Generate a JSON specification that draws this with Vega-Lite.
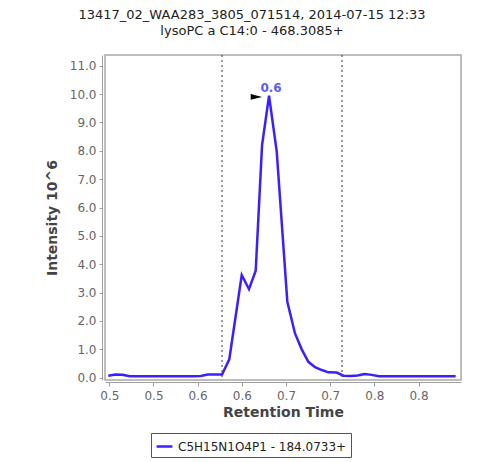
{
  "$schema": "https://vega.github.io/schema/vega-lite/v6.json",
  "autosize": "none",
  "width": 356,
  "height": 325,
  "padding": {"left": 105, "top": 55, "right": 20, "bottom": 82},
  "background": "white",
  "config": {
    "font": "DejaVu Sans",
    "view": {"stroke": "#a8a8a8", "strokeWidth": 1.5},
    "axis": {
      "titleFontSize": 14, "titleFontWeight": "bold", "titleColor": "#444444",
      "labelFontSize": 12, "labelColor": "#666666",
      "labelOverlap": false, "labelFlush": false,
      "domainColor": "#a0a0a0", "tickColor": "#a0a0a0",
      "grid": false
    },
    "axisX": {"titlePadding": 4, "labelPadding": 4, "tickSize": 4, "offset": 2},
    "axisY": {"titlePadding": 10, "labelPadding": 3, "tickSize": 3, "offset": 3}
  },
  "title": {
    "text": ["13417_02_WAA283_3805_071514, 2014-07-15 12:33", "lysoPC a C14:0 - 468.3085+"],
    "fontSize": 13,
    "fontWeight": "normal",
    "color": "#222222",
    "lineHeight": 16,
    "anchor": "middle",
    "frame": "group",
    "dx": -31,
    "offset": 16
  },
  "datasets": {
    "trace": [
      {"rt": 0.4988, "intensity": 0.07, "series": "C5H15N1O4P1 - 184.0733+"},
      {"rt": 0.5069, "intensity": 0.11, "series": "C5H15N1O4P1 - 184.0733+"},
      {"rt": 0.5149, "intensity": 0.10, "series": "C5H15N1O4P1 - 184.0733+"},
      {"rt": 0.5230, "intensity": 0.05, "series": "C5H15N1O4P1 - 184.0733+"},
      {"rt": 0.5310, "intensity": 0.05, "series": "C5H15N1O4P1 - 184.0733+"},
      {"rt": 0.5391, "intensity": 0.05, "series": "C5H15N1O4P1 - 184.0733+"},
      {"rt": 0.5471, "intensity": 0.05, "series": "C5H15N1O4P1 - 184.0733+"},
      {"rt": 0.5552, "intensity": 0.05, "series": "C5H15N1O4P1 - 184.0733+"},
      {"rt": 0.5632, "intensity": 0.05, "series": "C5H15N1O4P1 - 184.0733+"},
      {"rt": 0.5713, "intensity": 0.05, "series": "C5H15N1O4P1 - 184.0733+"},
      {"rt": 0.5793, "intensity": 0.05, "series": "C5H15N1O4P1 - 184.0733+"},
      {"rt": 0.5874, "intensity": 0.05, "series": "C5H15N1O4P1 - 184.0733+"},
      {"rt": 0.5954, "intensity": 0.05, "series": "C5H15N1O4P1 - 184.0733+"},
      {"rt": 0.6035, "intensity": 0.06, "series": "C5H15N1O4P1 - 184.0733+"},
      {"rt": 0.6115, "intensity": 0.11, "series": "C5H15N1O4P1 - 184.0733+"},
      {"rt": 0.6196, "intensity": 0.11, "series": "C5H15N1O4P1 - 184.0733+"},
      {"rt": 0.6276, "intensity": 0.11, "series": "C5H15N1O4P1 - 184.0733+"},
      {"rt": 0.6358, "intensity": 0.65, "series": "C5H15N1O4P1 - 184.0733+"},
      {"rt": 0.6499, "intensity": 3.62, "series": "C5H15N1O4P1 - 184.0733+"},
      {"rt": 0.6581, "intensity": 3.12, "series": "C5H15N1O4P1 - 184.0733+"},
      {"rt": 0.6657, "intensity": 3.77, "series": "C5H15N1O4P1 - 184.0733+"},
      {"rt": 0.6729, "intensity": 8.2, "series": "C5H15N1O4P1 - 184.0733+"},
      {"rt": 0.6808, "intensity": 9.94, "series": "C5H15N1O4P1 - 184.0733+"},
      {"rt": 0.6895, "intensity": 7.97, "series": "C5H15N1O4P1 - 184.0733+"},
      {"rt": 0.7015, "intensity": 2.68, "series": "C5H15N1O4P1 - 184.0733+"},
      {"rt": 0.7102, "intensity": 1.56, "series": "C5H15N1O4P1 - 184.0733+"},
      {"rt": 0.7178, "intensity": 1.0, "series": "C5H15N1O4P1 - 184.0733+"},
      {"rt": 0.7253, "intensity": 0.56, "series": "C5H15N1O4P1 - 184.0733+"},
      {"rt": 0.7329, "intensity": 0.37, "series": "C5H15N1O4P1 - 184.0733+"},
      {"rt": 0.7405, "intensity": 0.27, "series": "C5H15N1O4P1 - 184.0733+"},
      {"rt": 0.7480, "intensity": 0.19, "series": "C5H15N1O4P1 - 184.0733+"},
      {"rt": 0.7574, "intensity": 0.18, "series": "C5H15N1O4P1 - 184.0733+"},
      {"rt": 0.7650, "intensity": 0.07, "series": "C5H15N1O4P1 - 184.0733+"},
      {"rt": 0.7730, "intensity": 0.06, "series": "C5H15N1O4P1 - 184.0733+"},
      {"rt": 0.7810, "intensity": 0.08, "series": "C5H15N1O4P1 - 184.0733+"},
      {"rt": 0.7890, "intensity": 0.13, "series": "C5H15N1O4P1 - 184.0733+"},
      {"rt": 0.7970, "intensity": 0.10, "series": "C5H15N1O4P1 - 184.0733+"},
      {"rt": 0.8050, "intensity": 0.05, "series": "C5H15N1O4P1 - 184.0733+"},
      {"rt": 0.8130, "intensity": 0.05, "series": "C5H15N1O4P1 - 184.0733+"},
      {"rt": 0.8210, "intensity": 0.05, "series": "C5H15N1O4P1 - 184.0733+"},
      {"rt": 0.8290, "intensity": 0.05, "series": "C5H15N1O4P1 - 184.0733+"},
      {"rt": 0.8370, "intensity": 0.05, "series": "C5H15N1O4P1 - 184.0733+"},
      {"rt": 0.8450, "intensity": 0.05, "series": "C5H15N1O4P1 - 184.0733+"},
      {"rt": 0.8530, "intensity": 0.05, "series": "C5H15N1O4P1 - 184.0733+"},
      {"rt": 0.8610, "intensity": 0.05, "series": "C5H15N1O4P1 - 184.0733+"},
      {"rt": 0.8690, "intensity": 0.05, "series": "C5H15N1O4P1 - 184.0733+"},
      {"rt": 0.8770, "intensity": 0.05, "series": "C5H15N1O4P1 - 184.0733+"},
      {"rt": 0.8850, "intensity": 0.05, "series": "C5H15N1O4P1 - 184.0733+"},
      {"rt": 0.8920, "intensity": 0.05, "series": "C5H15N1O4P1 - 184.0733+"}
    ],
    "bounds": [{"rt": 0.6276}, {"rt": 0.7634}],
    "peak": [{"rt": 0.6808, "intensity": 9.94, "label": "0.6", "markerRt": 0.6665, "markerIntensity": 9.9}]
  },
  "layer": [
    {
      "data": {"name": "trace"},
      "mark": {"type": "line", "strokeWidth": 2.5, "clip": true},
      "encoding": {
        "x": {
          "field": "rt", "type": "quantitative",
          "scale": {"domain": [0.4951, 0.8981], "nice": false, "zero": false},
          "axis": {
            "title": "Retention Time",
            "values": [0.5, 0.55, 0.6, 0.65, 0.7, 0.75, 0.8, 0.85],
            "labelExpr": "format(floor(datum.value * 10 + 0.000001) / 10, '.1f')"
          }
        },
        "y": {
          "field": "intensity", "type": "quantitative",
          "scale": {"domain": [-0.081, 11.377], "nice": false, "zero": false},
          "axis": {
            "title": "Intensity 10^6",
            "values": [0, 1, 2, 3, 4, 5, 6, 7, 8, 9, 10, 11],
            "format": ".1f"
          }
        },
        "color": {
          "field": "series", "type": "nominal",
          "scale": {"range": ["#3b1fff"]},
          "legend": {
            "title": null,
            "orient": "none",
            "legendX": 46,
            "legendY": 378,
            "symbolType": "stroke",
            "symbolStrokeWidth": 2.5,
            "symbolSize": 250,
            "labelFontSize": 12,
            "labelColor": "#222222",
            "labelLimit": 400,
            "strokeColor": "#555555",
            "padding": 4,
            "fillColor": "white"
          }
        }
      }
    },
    {
      "data": {"name": "bounds"},
      "mark": {"type": "rule", "color": "#555555", "strokeWidth": 1.2, "strokeDash": [2, 3]},
      "encoding": {
        "x": {
          "field": "rt", "type": "quantitative",
          "axis": {
            "title": "Retention Time",
            "values": [0.5, 0.55, 0.6, 0.65, 0.7, 0.75, 0.8, 0.85],
            "labelExpr": "format(floor(datum.value * 10 + 0.000001) / 10, '.1f')"
          }
        }
      }
    },
    {
      "data": {"name": "peak"},
      "mark": {"type": "point", "shape": "M -1 -0.5 L 1 0 L -1 0.5 Z", "filled": true, "color": "black", "size": 130, "opacity": 1},
      "encoding": {
        "x": {
          "field": "markerRt", "type": "quantitative",
          "axis": {
            "title": "Retention Time",
            "values": [0.5, 0.55, 0.6, 0.65, 0.7, 0.75, 0.8, 0.85],
            "labelExpr": "format(floor(datum.value * 10 + 0.000001) / 10, '.1f')"
          }
        },
        "y": {
          "field": "markerIntensity", "type": "quantitative",
          "axis": {
            "title": "Intensity 10^6",
            "values": [0, 1, 2, 3, 4, 5, 6, 7, 8, 9, 10, 11],
            "format": ".1f"
          }
        }
      }
    },
    {
      "data": {"name": "peak"},
      "mark": {"type": "text", "color": "#5b5bff", "fontSize": 12, "fontWeight": "bold", "baseline": "alphabetic", "dy": -4, "dx": 2},
      "encoding": {
        "x": {
          "field": "rt", "type": "quantitative",
          "axis": {
            "title": "Retention Time",
            "values": [0.5, 0.55, 0.6, 0.65, 0.7, 0.75, 0.8, 0.85],
            "labelExpr": "format(floor(datum.value * 10 + 0.000001) / 10, '.1f')"
          }
        },
        "y": {
          "field": "intensity", "type": "quantitative",
          "axis": {
            "title": "Intensity 10^6",
            "values": [0, 1, 2, 3, 4, 5, 6, 7, 8, 9, 10, 11],
            "format": ".1f"
          }
        },
        "text": {"field": "label"}
      }
    }
  ]
}
